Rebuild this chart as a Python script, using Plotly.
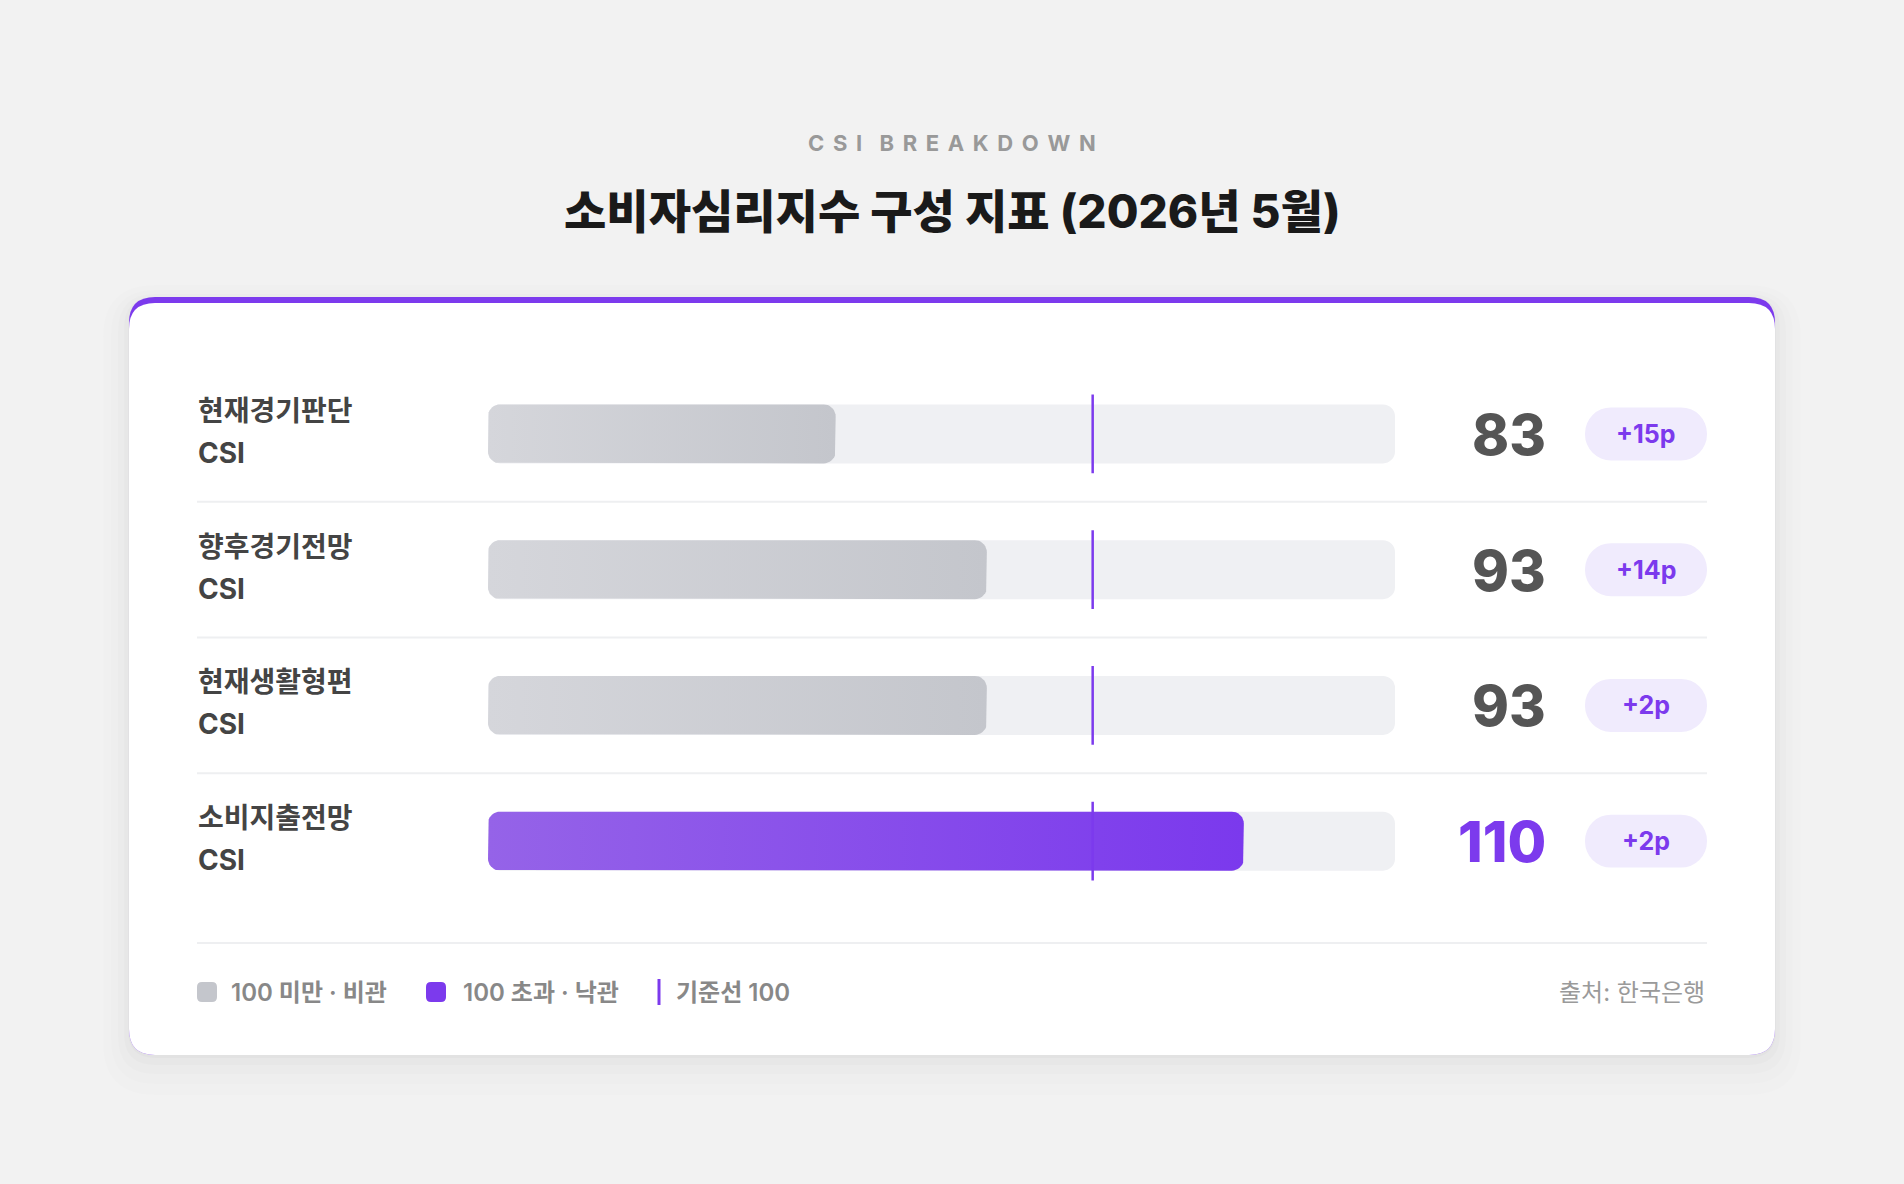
import numpy as np
import plotly.graph_objects as go

W, H = 1904, 1184

# data
categories = ["현재경기판단", "향후경기전망", "현재생활형편", "소비지출전망"]
category_suffix = ["CSI", "CSI", "CSI", "CSI"]
values = [83, 93, 93, 110]
changes = [15, 14, 2, 2]
baseline = 100
axis_min, axis_max = 60, 120
legend_labels = ["100 미만 · 비관", "100 초과 · 낙관", "기준선 100"]
source_text = "출처: 한국은행"
kicker = "CSI BREAKDOWN"
title = "소비자심리지수 구성 지표 (2026년 5월)"

FONT = "Inter, 'Noto Sans CJK KR', sans-serif"
PURPLE = "#7C3AED"

# pixel layout
TRACK_L, TRACK_R = 488, 1395
ROWS_TOP, ROWS_BOT = 366, 909
pitch = (ROWS_BOT - ROWS_TOP) / len(categories)
px_per_unit = (TRACK_R - TRACK_L) / (axis_max - axis_min)
BAR_H = 59 / pitch


def px(x):
    return x / W


def py(y):
    return 1 - y / H


def round_rect(x0, y0, x1, y1, r):
    # rounded rectangle path from pixel box, in paper coords
    pts = [
        ("M", [(x0 + r, y0)]),
        ("L", [(x1 - r, y0)]), ("Q", [(x1, y0), (x1, y0 + r)]),
        ("L", [(x1, y1 - r)]), ("Q", [(x1, y1), (x1 - r, y1)]),
        ("L", [(x0 + r, y1)]), ("Q", [(x0, y1), (x0, y1 - r)]),
        ("L", [(x0, y0 + r)]), ("Q", [(x0, y0), (x0 + r, y0)]),
    ]
    s = ""
    for cmd, ps in pts:
        s += cmd + " " + " ".join(f"{px(a):.5f},{py(b):.5f}" for a, b in ps) + " "
    return s + "Z"


def bar_outline(x0, x1, yc, h, r_px=12, n=10):
    rx = r_px / px_per_unit
    ry = r_px / pitch
    yt, yb = yc - h / 2, yc + h / 2
    corners = [((x1 - rx, yt + ry), -90), ((x1 - rx, yb - ry), 0),
               ((x0 + rx, yb - ry), 90), ((x0 + rx, yt + ry), 180)]
    xs, ys = [], []
    for (cx, cy), a0 in corners:
        a = np.radians(np.linspace(a0, a0 + 90, n))
        xs += list(cx + rx * np.cos(a))
        ys += list(cy + ry * np.sin(a))
    return xs + [xs[0]], ys + [ys[0]]


rows = list(range(len(categories)))
fig = go.Figure()

# background tracks
fig.add_trace(go.Bar(
    y=rows, x=[axis_max - axis_min] * len(rows), base=axis_min, orientation="h",
    width=BAR_H, marker=dict(color="#EFF0F3", cornerradius=12, line_width=0),
    hoverinfo="skip", showlegend=False))

# badges
fig.add_trace(go.Bar(
    y=rows, x=[1] * len(rows), base=0, orientation="h", xaxis="x2", yaxis="y",
    width=53 / pitch, marker=dict(color="#F0EBFD", cornerradius=27, line_width=0),
    hoverinfo="skip", showlegend=False))

# value bars with gradient fill
for i, v in enumerate(values):
    xs, ys = bar_outline(axis_min, v, i, BAR_H)
    if v > baseline:
        cs = [[0, "#9563E8"], [1, "#7B39ED"]]
    else:
        cs = [[0, "#D5D6DB"], [1, "#C4C6CC"]]
    fig.add_trace(go.Scatter(
        x=xs, y=ys, mode="lines", line=dict(width=0), fill="toself",
        fillgradient=dict(type="horizontal", colorscale=cs),
        hoverinfo="skip", showlegend=False))

shapes = []
# card shadow (soft, mostly below)
for s, a, dy in [(26, 0.006, 14), (18, 0.008, 11), (11, 0.011, 8), (5, 0.014, 5), (1, 0.018, 2)]:
    shapes.append(dict(type="path", path=round_rect(129 - s, 297 - s + dy, 1775 + s, 1055 + s + dy, 26 + s),
                       xref="paper", yref="paper", fillcolor=f"rgba(0,0,0,{a})",
                       line=dict(width=0), layer="below"))
# card with purple top
shapes.append(dict(type="path", path=round_rect(129, 297, 1775, 1055, 26), xref="paper", yref="paper",
                   fillcolor=PURPLE, line=dict(width=0), layer="below"))
shapes.append(dict(type="path", path=round_rect(129, 303, 1775, 1055, 26), xref="paper", yref="paper",
                   fillcolor="white", line=dict(width=0), layer="below"))
# row separators
for i in rows[:-1]:
    shapes.append(dict(type="line", xref="paper", yref="y", x0=px(197), x1=px(1707), y0=i + 0.5, y1=i + 0.5,
                       line=dict(color="#EEEFF1", width=2), layer="below"))
shapes.append(dict(type="line", xref="paper", yref="paper", x0=px(197), x1=px(1707), y0=py(943), y1=py(943),
                   line=dict(color="#EEEFF1", width=2), layer="below"))
# baseline markers
for i in rows:
    shapes.append(dict(type="line", xref="x", yref="y", x0=baseline, x1=baseline, y0=i - 0.29, y1=i + 0.29,
                       line=dict(color=PURPLE, width=2.5)))
# legend marks
shapes.append(dict(type="path", path=round_rect(197, 982, 217, 1002, 5), xref="paper", yref="paper",
                   fillcolor="#C4C6CC", line=dict(width=0)))
shapes.append(dict(type="path", path=round_rect(426, 982, 446, 1002, 5), xref="paper", yref="paper",
                   fillcolor=PURPLE, line=dict(width=0)))
shapes.append(dict(type="line", xref="paper", yref="paper", x0=px(659), x1=px(659), y0=py(979), y1=py(1005),
                   line=dict(color=PURPLE, width=3)))

ann = []
sp = "\u2009\u2009\u200a"
ann.append(dict(text=" ".join(sp.join(w) for w in kicker.split(" ")).replace(" ", sp + sp),
                x=0.5, y=py(143), xref="paper", yref="paper", yanchor="middle", showarrow=False,
                font=dict(family=FONT, size=22, color="#999999", weight=700)))
ann.append(dict(text=title, x=0.5, y=py(211), xref="paper", yref="paper", yanchor="middle", showarrow=False,
                font=dict(family=FONT, size=46, color="#1A1A1A", weight=800)))

for i, (c, sfx, v, d) in enumerate(zip(categories, category_suffix, values, changes)):
    ann.append(dict(text=c, x=px(196), y=i, xref="paper", yref="y", xanchor="left", yanchor="middle", yshift=23,
                    showarrow=False, font=dict(family=FONT, size=28, color="#444444", weight=700)))
    ann.append(dict(text=sfx, x=px(196), y=i, xref="paper", yref="y", xanchor="left", yanchor="middle", yshift=-19,
                    showarrow=False, font=dict(family=FONT, size=28, color="#444444", weight=700)))
    ann.append(dict(text=str(v), x=px(1548), y=i, xref="paper", yref="y", xanchor="right", yanchor="middle",
                    yshift=-1, showarrow=False,
                    font=dict(family=FONT, size=56, color=PURPLE if v > baseline else "#555555", weight=800)))
    ann.append(dict(text=f"+{d}p", x=0.5, y=i, xref="x2", yref="y", yanchor="middle", showarrow=False,
                    font=dict(family=FONT, size=25, color=PURPLE, weight=700)))

for x, t in zip([229, 461, 674], legend_labels):
    ann.append(dict(text=t, x=px(x), y=py(992), xref="paper", yref="paper", xanchor="left", yanchor="middle",
                    showarrow=False, font=dict(family=FONT, size=24, color="#888888", weight=600)))
ann.append(dict(text=source_text, x=px(1707), y=py(992), xref="paper", yref="paper", xanchor="right",
                yanchor="middle", showarrow=False, font=dict(family=FONT, size=24, color="#9A9A9A", weight=400)))

fig.update_layout(
    width=W, height=H, margin=dict(l=0, r=0, t=0, b=0),
    paper_bgcolor="#F2F2F2", plot_bgcolor="rgba(0,0,0,0)",
    barmode="overlay", showlegend=False, shapes=shapes, annotations=ann,
    xaxis=dict(domain=[px(TRACK_L), px(TRACK_R)], range=[axis_min, axis_max], visible=False, fixedrange=True),
    xaxis2=dict(domain=[px(1585), px(1707)], range=[0, 1], anchor="y", visible=False, fixedrange=True),
    yaxis=dict(domain=[py(ROWS_BOT), py(ROWS_TOP)], range=[len(rows) - 0.5, -0.5], visible=False, fixedrange=True),
)

fig.write_html("out.html", config={"displayModeBar": False},
               post_script="document.body.style.margin='0';")
